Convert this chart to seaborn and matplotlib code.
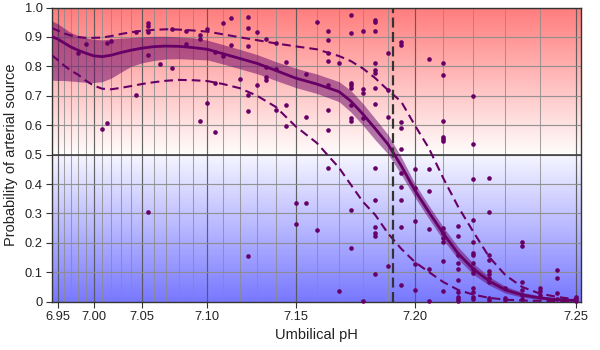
import numpy as np
import pandas as pd
import matplotlib
matplotlib.use('Agg')
import matplotlib.pyplot as plt
import seaborn as sns

# observed samples: umbilical pH and probability of arterial source
point_ph = [6.98, 6.99, 7.01, 7.015, 7.015, 7.02,
            7.045, 7.045,
            7.055, 7.055, 7.055, 7.055, 7.055,
            7.065, 7.075, 7.075, 7.085, 7.085,
            7.095, 7.095, 7.095, 7.10, 7.10,
            7.105, 7.105, 7.105, 7.11, 7.11, 7.115, 7.115, 7.12,
            7.125, 7.125, 7.125, 7.125, 7.125, 7.125,
            7.13, 7.13, 7.135, 7.135, 7.135, 7.135,
            7.14, 7.14, 7.14, 7.145, 7.145, 7.145,
            7.15, 7.15, 7.155, 7.155, 7.155, 7.16, 7.16,
            7.165, 7.165, 7.165, 7.165, 7.165, 7.165, 7.165, 7.165,
            7.17, 7.17,
            7.175, 7.175, 7.175, 7.175, 7.175, 7.175, 7.175, 7.175, 7.175, 7.175,
            7.18, 7.18, 7.18, 7.18, 7.18,
            7.185, 7.185, 7.185, 7.185, 7.185, 7.185, 7.185,
            7.185, 7.185, 7.185, 7.185, 7.185, 7.185, 7.185,
            7.19, 7.19, 7.19, 7.19,
            7.195, 7.195, 7.195, 7.195, 7.195, 7.195, 7.195, 7.195, 7.195, 7.195,
            7.20, 7.20, 7.20, 7.20, 7.20,
            7.205, 7.205, 7.205, 7.205, 7.205, 7.205,
            7.21, 7.21, 7.21, 7.21, 7.21, 7.21, 7.21, 7.21, 7.21, 7.21, 7.21, 7.21,
            7.215, 7.215, 7.215, 7.215, 7.215, 7.215, 7.215, 7.215, 7.215, 7.215,
            7.22, 7.22, 7.22, 7.22, 7.22, 7.22, 7.22,
            7.22, 7.22, 7.22, 7.22, 7.22, 7.22, 7.22,
            7.225, 7.225, 7.225, 7.225, 7.225, 7.225, 7.225, 7.225, 7.225, 7.225,
            7.23, 7.23, 7.23,
            7.235, 7.235, 7.235, 7.235, 7.235, 7.235,
            7.24, 7.24, 7.24,
            7.245, 7.245, 7.245, 7.245,
            7.25, 7.25, 7.25]
point_prob = [0.846, 0.877, 0.586, 0.608, 0.878, 0.886,
              0.703, 0.917,
              0.948, 0.937, 0.916, 0.838, 0.304,
              0.808, 0.927, 0.794, 0.921, 0.877,
              0.906, 0.893, 0.615, 0.927, 0.676,
              0.578, 0.744, 0.848, 0.946, 0.836, 0.963, 0.872, 0.756,
              0.969, 0.930, 0.870, 0.703, 0.649, 0.157,
              0.917, 0.736, 0.892, 0.799, 0.763, 0.753,
              0.878, 0.791, 0.651, 0.815, 0.668, 0.598,
              0.336, 0.263, 0.774, 0.629, 0.337, 0.950, 0.243,
              0.920, 0.888, 0.844, 0.818, 0.737, 0.651, 0.583, 0.453,
              0.810, 0.037,
              0.973, 0.913, 0.744, 0.735, 0.725, 0.669, 0.623, 0.613, 0.312, 0.182,
              0.919, 0.722, 0.708, 0.623, 0.003,
              0.957, 0.950, 0.920, 0.812, 0.786, 0.778, 0.725,
              0.673, 0.455, 0.345, 0.254, 0.235, 0.223, 0.095,
              0.846, 0.719, 0.629, 0.121,
              0.884, 0.872, 0.612, 0.590, 0.518, 0.439, 0.390, 0.345, 0.254, 0.058,
              0.451, 0.385, 0.274, 0.128, 0.040,
              0.825, 0.451, 0.377, 0.246, 0.111, 0.003,
              0.810, 0.769, 0.614, 0.559, 0.552, 0.546, 0.249, 0.232, 0.218, 0.203, 0.138, 0.036,
              0.257, 0.225, 0.158, 0.133, 0.111, 0.074, 0.033, 0.015, 0.008, 0.002,
              0.699, 0.536, 0.416, 0.277, 0.203, 0.167, 0.158,
              0.133, 0.111, 0.098, 0.045, 0.033, 0.016, 0.008,
              0.419, 0.305, 0.158, 0.141, 0.105, 0.094, 0.079, 0.067, 0.013, 0.005,
              0.045, 0.013, 0.005,
              0.203, 0.190, 0.067, 0.039, 0.024, 0.008,
              0.047, 0.036, 0.022,
              0.108, 0.079, 0.031, 0.008,
              0.016, 0.008, 0.002]

# fitted curves
curve_ph = [6.94, 6.95, 6.96, 6.97, 6.98, 6.99, 7.00, 7.01, 7.02, 7.03,
            7.04, 7.05, 7.06, 7.07, 7.08, 7.09, 7.10, 7.11, 7.12, 7.13,
            7.14, 7.15, 7.16, 7.17, 7.175, 7.18, 7.185, 7.19, 7.195, 7.20,
            7.205, 7.21, 7.215, 7.22, 7.225, 7.23, 7.235, 7.24, 7.245, 7.25]
mean_prob = [0.901, 0.893, 0.880, 0.866, 0.855, 0.845, 0.836, 0.833, 0.838, 0.847,
             0.855, 0.862, 0.867, 0.869, 0.868, 0.864, 0.858, 0.843, 0.827, 0.810,
             0.786, 0.760, 0.740, 0.714, 0.682, 0.638, 0.588, 0.535, 0.462, 0.379,
             0.305, 0.232, 0.164, 0.111, 0.070, 0.040, 0.023, 0.013, 0.007, 0.004]
band_hi = [0.955, 0.945, 0.930, 0.915, 0.905, 0.897, 0.892, 0.890, 0.893, 0.896,
           0.898, 0.900, 0.902, 0.902, 0.900, 0.897, 0.889, 0.874, 0.858, 0.840,
           0.816, 0.794, 0.774, 0.748, 0.718, 0.674, 0.622, 0.568, 0.492, 0.402,
           0.327, 0.254, 0.186, 0.130, 0.085, 0.052, 0.032, 0.020, 0.012, 0.008]
band_lo = [0.753, 0.752, 0.752, 0.750, 0.748, 0.746, 0.745, 0.748, 0.760, 0.780,
           0.800, 0.812, 0.820, 0.825, 0.826, 0.824, 0.822, 0.808, 0.792, 0.775,
           0.752, 0.728, 0.708, 0.680, 0.645, 0.600, 0.550, 0.502, 0.432, 0.355,
           0.282, 0.210, 0.145, 0.092, 0.056, 0.029, 0.015, 0.008, 0.004, 0.002]
upper_prob = [0.930, 0.922, 0.912, 0.905, 0.900, 0.897, 0.897, 0.898, 0.903, 0.910,
              0.916, 0.921, 0.924, 0.926, 0.925, 0.922, 0.918, 0.909, 0.899, 0.889,
              0.878, 0.868, 0.858, 0.835, 0.818, 0.793, 0.760, 0.719, 0.680, 0.600,
              0.522, 0.420, 0.323, 0.237, 0.152, 0.090, 0.050, 0.028, 0.016, 0.008]
lower_prob = [0.838, 0.822, 0.803, 0.786, 0.772, 0.752, 0.735, 0.724, 0.722, 0.727,
              0.733, 0.740, 0.746, 0.751, 0.754, 0.753, 0.750, 0.740, 0.726, 0.700,
              0.662, 0.596, 0.540, 0.455, 0.398, 0.340, 0.295, 0.232, 0.180, 0.135,
              0.101, 0.067, 0.040, 0.024, 0.013, 0.007, 0.004, 0.003, 0.002, 0.001]
threshold_ph = 7.192

x_ticks = [6.95, 7.00, 7.05, 7.10, 7.15, 7.20, 7.25]
x_labels = ['6.95', '7.00', '7.05', '7.10', '7.15', '7.20', '7.25']
y_ticks = [0, 0.1, 0.2, 0.3, 0.4, 0.5, 0.6, 0.7, 0.8, 0.9, 1.0]
y_labels = ['0', '0.1', '0.2', '0.3', '0.4', '0.5', '0.6', '0.7', '0.8', '0.9', '1.0']

sns.set_style('ticks')
plt.rcParams['font.family'] = ['Liberation Sans', 'DejaVu Sans']

purple = '#660066'

fig = plt.figure(figsize=(6, 3.5), dpi=100)
ax = fig.add_axes([0.0862, 0.138, 0.8813, 0.8405])

# exponential x scale, as in the original chart
ax.set_xscale('function', functions=(lambda x: np.exp(6 * (np.asarray(x) - 7)),
                                     lambda y: 7 + np.log(np.asarray(y)) / 6))
ax.set_xlim(6.94, 7.2513)
ax.set_ylim(0, 1)

# red / blue background gradient
t = np.linspace(0, 1, 400)[:, None]
top = np.array([255, 124, 124]) / 255
mid_hi = np.array([255, 253, 253]) / 255
mid_lo = np.array([246, 246, 255]) / 255
bot = np.array([120, 120, 255]) / 255
grad = np.where(t < 0.5, top + (mid_hi - top) * (t / 0.5),
                mid_lo + (bot - mid_lo) * ((t - 0.5) / 0.5))
ax.imshow(grad[:, None, :].repeat(2, axis=1), extent=[0, 1, 0, 1], transform=ax.transAxes,
          aspect='auto', zorder=0, interpolation='bilinear')

# grid
ax.set_xticks(x_ticks)
ax.set_xticklabels(x_labels)
ax.set_xticks(np.round(np.arange(6.94, 7.2501, 0.01), 2), minor=True)
ax.set_yticks(y_ticks)
ax.set_yticklabels(y_labels)
ax.grid(which='minor', axis='x', color='#8c8c8c', lw=0.75, alpha=0.8)
ax.grid(which='major', axis='x', color='#555555', lw=0.85, alpha=0.9)
ax.grid(which='major', axis='y', color='#8c8c8c', lw=0.85, alpha=0.9)
ax.set_axisbelow(True)
ax.axhline(0.5, color='#333333', lw=1.1, zorder=1)

# confidence band and curves
ax.fill_between(curve_ph, band_lo, band_hi, color=purple, alpha=0.5, lw=0, zorder=2)
sns.lineplot(x=curve_ph, y=upper_prob, color=purple, lw=1.5,
             linestyle=(0, (4.2, 2.4)), ax=ax, zorder=3)
sns.lineplot(x=curve_ph, y=lower_prob, color=purple, lw=1.5,
             linestyle=(0, (4.2, 2.4)), ax=ax, zorder=3)
sns.lineplot(x=curve_ph, y=mean_prob, color=purple, lw=2, ax=ax, zorder=4)
ax.axvline(threshold_ph, color='#333333', lw=1.6, linestyle=(0, (4.5, 2)), zorder=4)

df = pd.DataFrame({'ph': point_ph, 'prob': point_prob})
sns.scatterplot(data=df, x='ph', y='prob', color=purple, s=11, linewidth=0,
                ax=ax, zorder=5, clip_on=False)

for side in ['left', 'right', 'top', 'bottom']:
    ax.spines[side].set_color('#333333')
    ax.spines[side].set_linewidth(1)
ax.tick_params(axis='both', which='major', labelsize=9.3, length=4, color='#333333',
               labelcolor='#222222', pad=2.5)
ax.tick_params(axis='x', which='minor', length=0)

ax.set_xlabel('Umbilical pH', fontsize=10.5, color='#222222', labelpad=4)
ax.set_ylabel('Probability of arterial source', fontsize=10.5, color='#222222', labelpad=5)

fig.savefig('out.png', dpi=100)
